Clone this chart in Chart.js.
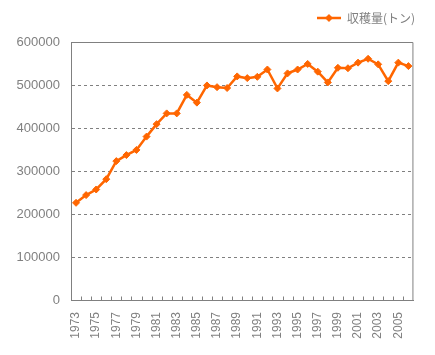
<!DOCTYPE html>
<html><head><meta charset="utf-8">
<script src="https://cdn.jsdelivr.net/npm/chart.js@4"></script>
<style>html,body{margin:0;padding:0;background:#fff;}canvas{display:block;}</style>
</head><body>
<canvas id="c" width="435" height="355"></canvas>
<script>
const years = ['1973','1974','1975','1976','1977','1978','1979','1980','1981','1982','1983','1984','1985','1986','1987','1988','1989','1990','1991','1992','1993','1994','1995','1996','1997','1998','1999','2000','2001','2002','2003','2004','2005','2006'];
const harvest = [226000,244000,257000,281000,323000,337000,349000,380000,409000,434000,434000,477000,459000,499000,495000,493000,520000,516000,519000,536000,492000,527000,536000,549000,531000,506000,540000,539000,552000,561000,548000,509000,552000,544000];
const seriesName = '収穫量(トン)';
const yTicks = [0,100000,200000,300000,400000,500000,600000];

const ORANGE = '#FF6600', GRAY = '#808080';
const FONT = "'Liberation Sans', Arial, sans-serif";

// legend symbol: line with diamond
const sym = document.createElement('canvas');
sym.width = 24; sym.height = 10;
(function(){
  const g = sym.getContext('2d');
  g.strokeStyle = ORANGE; g.lineWidth = 2.5;
  g.beginPath(); g.moveTo(0,5); g.lineTo(24,5); g.stroke();
  g.fillStyle = ORANGE;
  g.beginPath(); g.moveTo(12,1); g.lineTo(16,5); g.lineTo(12,9); g.lineTo(8,5); g.closePath(); g.fill();
})();

const framePlugin = {
  id: 'frame',
  beforeInit(chart){
    const lg = chart.legend;
    if (lg) {
      const fit = lg.fit;
      lg.fit = function(){ fit.call(this); this.height = 36; };
    }
  },
  afterDraw(chart){
    const {ctx, chartArea:a} = chart;
    const xs = chart.scales.x;
    ctx.save();
    ctx.strokeStyle = GRAY; ctx.lineWidth = 1;
    ctx.beginPath();
    ctx.moveTo(a.left, a.top+0.5); ctx.lineTo(a.right-0.5, a.top+0.5); ctx.lineTo(a.right-0.5, a.bottom);
    // inward tick marks at category boundaries
    const n = years.length;
    for (let i = 0; i < n - 1; i++) {
      const x = Math.round((xs.getPixelForValue(i) + xs.getPixelForValue(i+1)) / 2) + 0.5;
      ctx.moveTo(x, a.bottom); ctx.lineTo(x, a.bottom - 3.5);
    }
    ctx.stroke();
    ctx.restore();
  }
};

new Chart(document.getElementById('c'), {
  type: 'line',
  data: {
    labels: years,
    datasets: [{
      label: seriesName,
      data: harvest,
      borderColor: ORANGE,
      backgroundColor: ORANGE,
      borderWidth: 2.5,
      pointStyle: 'rectRot',
      pointRadius: 3.5,
      pointBorderWidth: 1,
      pointBackgroundColor: ORANGE,
      pointBorderColor: ORANGE,
      tension: 0,
      fill: false
    }]
  },
  options: {
    responsive: false,
    animation: false,
    layout: { padding: { top: 6, right: 14, bottom: 0, left: 0 } },
    plugins: {
      tooltip: { enabled: false },
      legend: {
        display: true,
        position: 'top',
        align: 'end',
        labels: {
          usePointStyle: true,
          pointStyle: sym,
          pointStyleWidth: 24,
          padding: 6,
          color: GRAY,
          font: { family: "'Noto Sans CJK JP', " + FONT, size: 12 }
        }
      }
    },
    scales: {
      x: {
        type: 'category',
        offset: true,
        grid: { display: true, drawOnChartArea: false, drawTicks: false, offset: true, color: 'transparent' },
        border: { display: true, color: GRAY, width: 1 },
        ticks: {
          autoSkip: false,
          minRotation: 90, maxRotation: 90,
          padding: 12,
          color: GRAY,
          font: { family: FONT, size: 12 },
          callback: function(v, i){ return i % 2 === 0 ? years[i] : ''; }
        },
        afterFit(s){ s.height = 55; }
      },
      y: {
        min: 0, max: 600000,
        afterBuildTicks(s){ s.ticks = yTicks.map(v => ({ value: v })); },
        grid: {
          drawTicks: false,
          color: ctx => (ctx.tick && (ctx.tick.value === 0 || ctx.tick.value === 600000)) ? 'transparent' : GRAY,
          lineWidth: 1
        },
        border: { display: true, color: GRAY, width: 1, dash: [3, 3] },
        ticks: {
          padding: 11,
          color: GRAY,
          font: { family: FONT, size: 13 },
          callback: v => String(v)
        },
        afterFit(s){ s.width = 71; }
      }
    }
  },
  plugins: [framePlugin]
});
</script>
</body></html>
